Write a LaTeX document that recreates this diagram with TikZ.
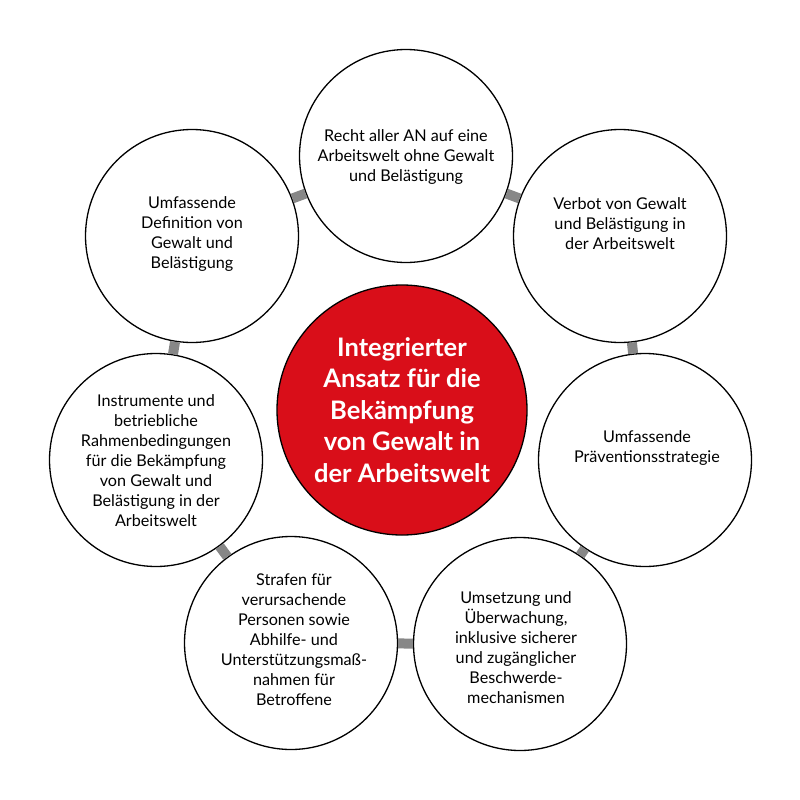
\documentclass[tikz,border=0pt]{standalone}
\usepackage{fontspec}
\setmainfont{Lato}
\usetikzlibrary{arrows}
\definecolor{corered}{RGB}{217,14,25}
\definecolor{linkgray}{RGB}{135,135,135}

\begin{document}
\begin{tikzpicture}[
                  x = 1pt,
                  y = -1pt,
  every node/.style = {align=center, inner sep=0pt},
        ring/.style = {circle, draw, line width=1.3pt, fill=white, minimum size=213pt},
        core/.style = {circle, draw, line width=1.3pt, fill=corered, minimum size=250pt,
                       text=white, font=\bfseries\fontsize{25.5}{31.5}\selectfont},
         txt/.style = {font=\fontsize{16.2}{20}\selectfont},
        link/.style = {draw=linkgray, line width=10pt},
                   ]
\useasboundingbox (0,0) rectangle (800,800);

% centre
\node[core] (ansatz) at (402,410) {Integrierter\\Ansatz für die\\Bekämpfung\\von Gewalt in\\der Arbeitswelt};

% outer ring, clockwise from top
\node[ring] (recht)   at (406,156) {};
\node[ring] (verbot)  at (620,236) {};
\node[ring] (praev)   at (645,460) {};
\node[ring] (umsetz)  at (520,644) {};
\node[ring] (strafen) at (291,643) {};
\node[ring] (instr)   at (156,460) {};
\node[ring] (defin)   at (192,236) {};

\node[txt] (rechtt)   at (406,157) {Recht aller AN auf eine\\Arbeitswelt ohne Gewalt\\und Belästigung};
\node[txt] (verbott)  at (620,224) {Verbot von Gewalt\\und Belästigung in\\der Arbeitswelt};
\node[txt] (praevt)   at (647,448) {Umfassende\\Präventionsstrategie};
\node[txt] (umsetzt)  at (516,648) {Umsetzung und\\Überwachung,\\inklusive sicherer\\und zugänglicher\\Beschwerde-\\mechanismen};
\node[txt] (strafent) at (294,640) {Strafen für\\verursachende\\Personen sowie\\Abhilfe- und\\Unterstützungsmaß-\\nahmen für\\Betroffene};
\node[txt] (instrt)   at (156,461) {Instrumente und\\betriebliche\\Rahmenbedingungen\\für die Bekämpfung\\von Gewalt und\\Belästigung in der\\Arbeitswelt};
\node[txt] (defint)   at (192,234) {Umfassende\\Definition von\\Gewalt und\\Belästigung};

% grey links between neighbours
\draw[link] (recht) -- (verbot);
\draw[link] (verbot) -- (praev);
\draw[link] (praev) -- (umsetz);
\draw[link] (umsetz) -- (strafen);
\draw[link] (strafen) -- (instr);
\draw[link] (instr) -- (defin);
\draw[link] (defin) -- (recht);
\end{tikzpicture}
\end{document}
